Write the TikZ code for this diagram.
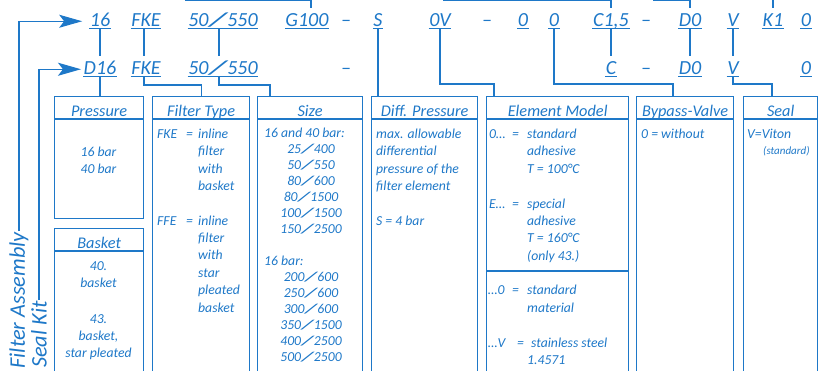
\documentclass[tikz,border=0pt]{standalone}
\usepackage{graphicx}
\usepackage{fontspec}
\setmainfont{Carlito}
\usetikzlibrary{arrows.meta}
\definecolor{fb}{RGB}{30,120,200}
\newcommand{\wsl}{\kern0.04em\scalebox{2.2}[1]{/}\kern0.04em}
\begin{document}
\begin{tikzpicture}[x=1pt,y=-1pt,
  tok/.style={font=\fontsize{20}{20}\selectfont\itshape, text=fb, inner xsep=0.5pt, inner ysep=0pt, anchor=base, text height=18pt, text depth=2.5pt},
  ul/.style={draw=fb, line width=1pt},
  cn/.style={draw=fb, line width=1.1pt},
  bx/.style={draw=fb, line width=1.3pt, anchor=north west, inner sep=0pt},
  hd/.style={font=\fontsize{16.3}{16.3}\selectfont\itshape, text=fb, anchor=base, inner sep=0pt},
  body/.style={font=\fontsize{13.7}{13.7}\selectfont\itshape, text=fb, anchor=base west, inner sep=0pt},
  bodyc/.style={font=\fontsize{13.7}{13.7}\selectfont\itshape, text=fb, anchor=base, inner sep=0pt},
  small/.style={font=\fontsize{11}{11}\selectfont\itshape, text=fb, anchor=base west, inner sep=0pt},
  lab/.style={font=\fontsize{22.3}{22.3}\selectfont\itshape, text=fb, inner sep=1pt},
  arr/.style={cn, -{Stealth[length=23pt,width=13pt,inset=5pt]}}
]
\useasboundingbox (0,0) rectangle (819,370);
\clip (0,0) rectangle (819,370);
% ---------- row 1 ----------
\node[tok] (t16) at (100,26) {16};
\node[tok] (tfke) at (146,26) {FKE};
\node[tok] (t50) at (223,26) {50\wsl 550};
\node[tok] (tg) at (307,26) {G100};
\node[tok] (tda) at (346,26) {–};
\node[tok] (ts) at (378,26) {S};
\node[tok] (tov) at (440,26) {0V};
\node[tok] (tdb) at (487,26) {–};
\node[tok] (tz1) at (523,26) {0};
\node[tok] (tz2) at (554,26) {0};
\node[tok] (tc15) at (611,26) {C1,5};
\node[tok] (tdc) at (646,26) {–};
\node[tok] (td0) at (690,26) {D0};
\node[tok] (tv) at (733,26) {V};
\node[tok] (tk1) at (773,26) {K1};
\node[tok] (tz3) at (806,26) {0};
\foreach \n in {t16,tfke,t50,tg,ts,tov,tz1,tz2,tc15,td0,tv,tk1,tz3}
  \draw[ul] (\n.south west) -- (\n.south east);
% ---------- row 2 ----------
\node[tok] (d16) at (100,74) {D16};
\node[tok] (dfke) at (146,74) {FKE};
\node[tok] (d50) at (223,74) {50\wsl 550};
\node[tok] (dda) at (346,74) {–};
\node[tok] (dc) at (611,74) {C};
\node[tok] (ddc) at (646,74) {–};
\node[tok] (dd0) at (690,74) {D0};
\node[tok] (dv) at (733,74) {V};
\node[tok] (dz3) at (806,74) {0};
\foreach \n in {d16,dfke,d50,dc,dd0,dv,dz3}
  \draw[ul] (\n.south west) -- (\n.south east);
% ---------- boxes ----------
\node[bx, minimum width=89pt, minimum height=122pt] (pr) at (54,96) {};
\node[bx, minimum width=89pt, minimum height=160pt] (bk) at (54,228) {};
\node[bx, minimum width=97pt, minimum height=290pt] (ft) at (152,96) {};
\node[bx, minimum width=105pt, minimum height=290pt] (sz) at (257,96) {};
\node[bx, minimum width=106pt, minimum height=290pt] (dp) at (371,96) {};
\node[bx, minimum width=142pt, minimum height=290pt] (em) at (486,96) {};
\node[bx, minimum width=97pt, minimum height=290pt] (bv) at (636,96) {};
\node[bx, minimum width=74pt, minimum height=290pt] (se) at (743,96) {};
\foreach \b in {pr,bk,ft,sz,dp,em,bv,se}
  \draw[draw=fb, line width=1.3pt] ([yshift=-23pt]\b.north west) -- ([yshift=-23pt]\b.north east);
\draw[draw=fb, line width=1.3pt] (em.west |- 0,271) -- (em.east |- 0,271);
% headers
\node[hd] (prh) at (pr.north |- 0,116) {Pressure};
\node[hd] (bkh) at (bk.north |- 0,248) {Basket};
\node[hd] (fth) at (ft.north |- 0,116) {Filter Type};
\node[hd] (szh) at (sz.north |- 0,116) {Size};
\node[hd] (dph) at (dp.north |- 0,116) {Diff. Pressure};
\node[hd] (emh) at (em.north |- 0,116) {Element Model};
\node[hd] (bvh) at (bv.north |- 0,116) {Bypass-Valve};
\node[hd] (seh) at (se.north |- 0,116) {Seal};
% Pressure body
\node[bodyc] (pr1) at (98.5,156) {16 bar};
\node[bodyc] (pr2) at (98.5,173) {40 bar};
% Basket body
\node[bodyc] (bk1) at (98.5,270) {40.};
\node[bodyc] (bk2) at (98.5,287) {basket};
\node[bodyc] (bk3) at (98.5,323) {43.};
\node[bodyc] (bk4) at (98.5,340) {basket,};
\node[bodyc] (bk5) at (98.5,357) {star pleated};
% Filter type body
\node[body] (ftk) at (157,138) {FKE};
\node[body] (ftke) at (186,138) {=};
\foreach \y/\t [count=\i] in {138/inline,155.5/filter,173/with,190/basket}
  \node[body] (ftk\i) at (198,\y) {\t};
\node[body] (ftf) at (157,225) {FFE};
\node[body] (ftfe) at (186,225) {=};
\foreach \y/\t [count=\i] in {225/inline,242/filter,259.5/with,277/star,294.5/pleated,312/basket}
  \node[body] (ftf\i) at (198,\y) {\t};
% Size body
\node[body] (sza) at (264,137) {16 and 40 bar:};
\foreach \y/\a/\b [count=\i] in {153/25/400,169/50/550,185/80/600,201/80/1500,217/100/1500,233/150/2500}
  \node[bodyc] (sza\i) at (311,\y) {\a\wsl\b};
\node[body] (szb) at (264,265) {16 bar:};
\foreach \y/\a/\b [count=\i] in {281/200/600,297/250/600,313/300/600,329/350/1500,345/400/2500,361/500/2500}
  \node[bodyc] (szb\i) at (311,\y) {\a\wsl\b};
% Diff pressure body
\foreach \y/\t [count=\i] in {138/max. allowable,155.5/differential,173/pressure of the,190/filter element,225/S = 4 bar}
  \node[body] (dp\i) at (376,\y) {\t};
% Element model body
\node[body] (ema) at (489,138) {0…};
\node[body] (emae) at (512,138) {=};
\foreach \y/\t [count=\i] in {138/standard,155.5/adhesive,173/T = 100°C}
  \node[body] (ema\i) at (527,\y) {\t};
\node[body] (emb) at (489,208) {E…};
\node[body] (embe) at (512,208) {=};
\foreach \y/\t [count=\i] in {208/special,225/adhesive,242.5/T = 160°C,260/(only 43.)}
  \node[body] (emb\i) at (527,\y) {\t};
\node[body] (emc) at (488,294) {…0};
\node[body] (emce) at (512,294) {=};
\node[body] (emc1) at (527,294) {standard};
\node[body] (emc2) at (527,312) {material};
\node[body] (emd) at (488,347) {…V};
\node[body] (emde) at (517,347) {=};
\node[body] (emd1) at (531,347) {stainless steel};
\node[body] (emd2) at (527,364) {1.4571};
% Bypass / Seal body
\node[body] (bv1) at (641,138) {0 = without};
\node[body] (se1) at (747,138) {V=Viton};
\node[small] (se2) at (763,154) {(standard)};
% ---------- connectors ----------
\draw[cn] (t16.south) -- (d16.north);
\draw[cn] ([xshift=-2pt]tfke.south) -- ([xshift=-2pt]dfke.north);
\draw[cn] ([xshift=-4pt]t50.south) -- ([xshift=-4pt]d50.north);
\draw[cn] (tc15.south) -- (dc.north);
\draw[cn] (td0.south) -- (dd0.north);
\draw[cn] (tv.south) -- (dv.north);
\draw[cn] (d16.south) -- (d16.south |- pr.north);
\draw[cn] ([xshift=-2pt]dfke.south) |- ([yshift=11pt]ft.north) -- (ft.north);
\draw[cn] ([xshift=-4pt]d50.south) |- ([xshift=13pt,yshift=11pt]sz.north west) -- ([xshift=13pt]sz.north west);
\draw[cn] (ts.south) -- (ts.south |- dp.north);
\draw[cn] (tov.south) |- ([xshift=8pt,yshift=12pt]em.north west) -- ([xshift=8pt]em.north west);
\draw[cn] (tz2.south) |- ([xshift=37pt,yshift=12pt]bv.north west) -- ([xshift=37pt]bv.north west);
\draw[cn] (dv.south) |- ([xshift=29pt,yshift=12pt]se.north west) -- ([xshift=29pt]se.north west);
% lines from above
\coordinate (tpa) at (185,0.6);
\coordinate (tpb) at (443,0.6);
\coordinate (tpc) at (653,0.6);
\coordinate (tpd) at (773,0);
\draw[cn] (tpa) -| ([xshift=4pt]tg.north);
\draw[cn] (tpb) -| (tc15.north);
\draw[cn] (tpc) -| (td0.north);
\draw[cn] (tpd) -- (tk1.north);
% ---------- side labels ----------
\node[lab, rotate=90, anchor=east] (fa) at (19,231) {Filter Assembly};
\node[lab, rotate=90, anchor=west] (sk) at (39,369) {Seal Kit};
\draw[arr] (fa.east) |- ([xshift=-7pt,yshift=-3pt]t16.west);
\draw[arr] (sk.east) |- ([xshift=-2pt,yshift=-3pt]d16.west);
\end{tikzpicture}
\end{document}
